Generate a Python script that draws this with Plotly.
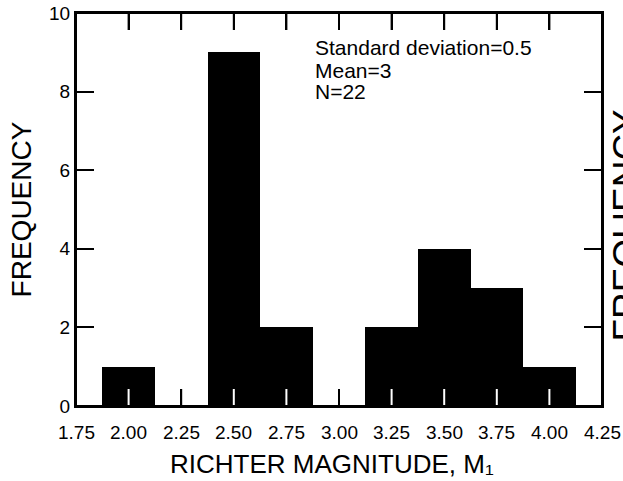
import plotly.graph_objects as go

# ---- data ----
bin_centers = [2.00, 2.50, 2.75, 3.25, 3.50, 3.75, 4.00]
frequency = [1, 9, 2, 2, 4, 3, 1]
bin_width = 0.25

x_tick_values = [1.75, 2.00, 2.25, 2.50, 2.75, 3.00, 3.25, 3.50, 3.75, 4.00, 4.25]
x_tick_labels = ["1.75", "2.00", "2.25", "2.50", "2.75", "3.00", "3.25", "3.50", "3.75", "4.00", "4.25"]
y_tick_values = [0, 2, 4, 6, 8, 10]
y_tick_labels = ["0", "2", "4", "6", "8", "10"]

x_title = "RICHTER MAGNITUDE, M\u2081"
y_title = "FREQUENCY"
stats_lines = ["Standard deviation=0.5", "Mean=3", "N=22"]

FONT = "Arial, Liberation Sans, Helvetica, DejaVu Sans, sans-serif"
X_RANGE = [1.75, 4.25]
Y_RANGE = [0, 10]
TICKLEN_PX = 17

# layout geometry (pixels)
W, H = 623, 481
M_L, M_R, M_T, M_B = 76, 21, 13, 58
FRAME_BOTTOM = 406                    # pixel row of the frame's bottom edge
AREA_H = H - M_T - M_B                # plotting area incl. a strip under the frame
Y_DOM0 = (H - M_B - FRAME_BOTTOM) / AREA_H
FRAME_W = W - M_L - M_R
FRAME_H = FRAME_BOTTOM - M_T


def px_to_ydom(ypx):
    return (FRAME_BOTTOM - ypx) / FRAME_H


def px_to_xdom(xpx):
    return (xpx - M_L) / FRAME_W


def val_to_xdom(v):
    return (v - X_RANGE[0]) / (X_RANGE[1] - X_RANGE[0])


fig = go.Figure()

fig.add_trace(go.Bar(
    x=bin_centers, y=frequency, width=[bin_width] * len(bin_centers),
    marker=dict(color="black", line=dict(width=0)),
    hoverinfo="x+y", showlegend=False,
))

# x-axis tick marks (bottom: white where a filled bar covers the tick; top: black)
tick_len_data = TICKLEN_PX / FRAME_H * (Y_RANGE[1] - Y_RANGE[0])
shapes = []
for v in x_tick_values[1:-1]:
    covered = any(abs(v - c) < bin_width / 2 and f > 0 for c, f in zip(bin_centers, frequency))
    shapes.append(dict(type="line", xref="x", yref="y", x0=v, x1=v,
                       y0=Y_RANGE[0], y1=Y_RANGE[0] + tick_len_data,
                       line=dict(color="white" if covered else "black", width=2), layer="above"))
    shapes.append(dict(type="line", xref="x", yref="y", x0=v, x1=v,
                       y0=Y_RANGE[1], y1=Y_RANGE[1] - tick_len_data,
                       line=dict(color="black", width=2), layer="above"))
# plot frame on top
shapes.append(dict(type="rect", xref="x domain", yref="y domain", x0=0, x1=1, y0=0, y1=1,
                   line=dict(color="black", width=2), layer="above"))

fig.update_layout(
    width=W, height=H,
    margin=dict(l=M_L, r=M_R, t=M_T, b=M_B),
    paper_bgcolor="white", plot_bgcolor="white",
    font=dict(family=FONT, color="black", size=19),
    bargap=0,
    xaxis=dict(
        range=X_RANGE, tickmode="array", tickvals=x_tick_values,
        ticks="inside", ticklen=TICKLEN_PX, tickwidth=2, tickcolor="black",
        showline=True, linecolor="black", linewidth=2, mirror="ticks",
        showgrid=False, zeroline=False, automargin=False, showticklabels=False,
    ),
    yaxis=dict(
        domain=[Y_DOM0, 1],
        range=Y_RANGE, tickmode="array", tickvals=y_tick_values, ticktext=y_tick_labels,
        ticks="inside", ticklen=18, tickwidth=2, tickcolor="black",
        showline=True, linecolor="black", linewidth=2, mirror="ticks",
        showgrid=False, zeroline=False, automargin=False,
        tickfont=dict(size=19),
        title=dict(text=y_title, font=dict(size=28), standoff=9),
    ),
    shapes=shapes,
)

# x tick labels, set a little below the frame as in the reference
for v, lab in zip(x_tick_values, x_tick_labels):
    fig.add_annotation(
        xref="x domain", yref="y domain", x=val_to_xdom(v), y=px_to_ydom(432),
        xanchor="center", yanchor="middle", showarrow=False, text=lab,
        font=dict(size=19, family=FONT),
    )

# x axis title
fig.add_annotation(
    xref="x domain", yref="y domain", x=px_to_xdom(332), y=px_to_ydom(464),
    xanchor="center", yanchor="middle", showarrow=False, text=x_title,
    font=dict(size=26, family=FONT),
)

# statistics text block
stat_y_px = [47, 70, 92]
for line, ypx in zip(stats_lines, stat_y_px):
    fig.add_annotation(
        xref="x domain", yref="y domain", x=px_to_xdom(313), y=px_to_ydom(ypx),
        xanchor="left", yanchor="middle", showarrow=False, text=line,
        font=dict(size=21, family=FONT),
    )

# clipped axis title of the neighbouring panel at the right edge
fig.add_annotation(
    xref="x domain", yref="y domain", x=px_to_xdom(603), y=px_to_ydom(226),
    xanchor="left", yanchor="middle", showarrow=False, text=y_title,
    textangle=-90, font=dict(size=37, family=FONT),
)

fig.write_html("out.html", config={"displayModeBar": False},
               post_script="document.body.style.margin='0';")
